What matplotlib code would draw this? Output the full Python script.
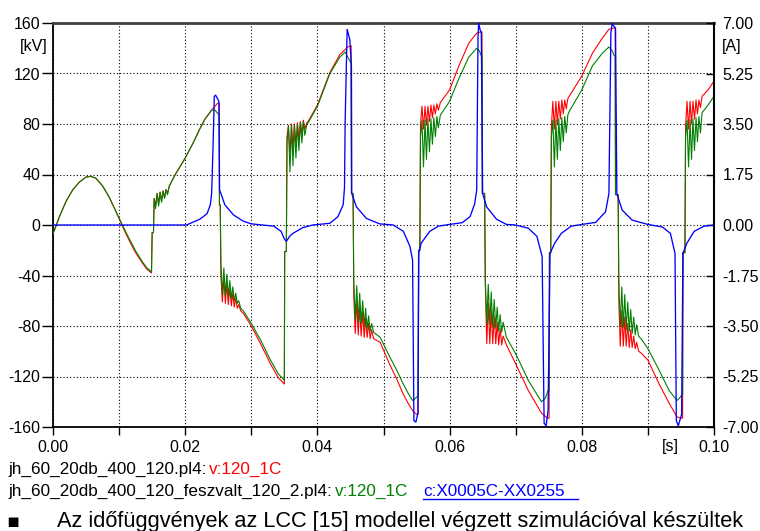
import numpy as np
import matplotlib
matplotlib.use("Agg")
from matplotlib import pyplot as plt
from matplotlib.lines import Line2D

plt.rcParams['font.family'] = ['Liberation Sans', 'DejaVu Sans']

# ---- data ----
# shared time points of the ringing after each commutation
osc_b = [0.01530, 0.01552, 0.01575, 0.01598, 0.01620, 0.01642, 0.01665, 0.01688, 0.01710, 0.01732, 0.01755]
osc_c = [0.02540, 0.02562, 0.02585, 0.02608, 0.02630, 0.02652, 0.02675, 0.02698, 0.02720, 0.02742, 0.02765,
         0.02788, 0.02810, 0.02840]
osc_d = [0.03540, 0.03562, 0.03585, 0.03608, 0.03630, 0.03652, 0.03675, 0.03698, 0.03720, 0.03742, 0.03765,
         0.03788, 0.03810, 0.03840]
osc_e = [0.04550, 0.04572, 0.04595, 0.04618, 0.04640, 0.04662, 0.04685, 0.04708, 0.04730, 0.04752, 0.04775,
         0.04798, 0.04820, 0.04850]
osc_f = [0.05560, 0.05582, 0.05605, 0.05628, 0.05650, 0.05672, 0.05695, 0.05718, 0.05740, 0.05762, 0.05785,
         0.05808, 0.05830, 0.05860]
osc_g = [0.06540, 0.06562, 0.06585, 0.06608, 0.06630, 0.06652, 0.06675, 0.06698, 0.06720, 0.06742, 0.06765,
         0.06788, 0.06810, 0.06860]
osc_h = [0.07540, 0.07562, 0.07585, 0.07608, 0.07630, 0.07652, 0.07675, 0.07698, 0.07720, 0.07742, 0.07765,
         0.07788]
osc_i = [0.08560, 0.08582, 0.08605, 0.08628, 0.08650, 0.08672, 0.08695, 0.08718, 0.08740, 0.08762, 0.08785,
         0.08808, 0.08830, 0.08860]
osc_j = [0.09570, 0.09592, 0.09615, 0.09638, 0.09660, 0.09682, 0.09705, 0.09728, 0.09750, 0.09772, 0.09795]
sine_t = [0.0000, 0.0010, 0.0020, 0.0030, 0.0040, 0.0050, 0.0057, 0.0065, 0.0075, 0.0085, 0.0095, 0.0105,
          0.0115, 0.0125, 0.0135, 0.0142, 0.0149]

# red: jh_60_20db_400_120.pl4  v:120_1C   [kV]
red_t = (sine_t
         + [0.01500, 0.01520] + osc_b
         + [0.0176, 0.0185, 0.0200, 0.0212, 0.0222, 0.0230, 0.0240, 0.0245, 0.0249, 0.02515, 0.02518, 0.0253]
         + osc_c + [0.0288, 0.0300, 0.0314, 0.0329, 0.0341, 0.0350, 0.03505, 0.03530]
         + osc_d + [0.0386, 0.0400, 0.0419, 0.0434, 0.0442, 0.0446, 0.0451, 0.04515, 0.0454]
         + osc_e + [0.0495, 0.0509, 0.0520, 0.0529, 0.0537, 0.0544, 0.0550, 0.05525, 0.0553, 0.0555]
         + osc_f + [0.0600, 0.0614, 0.0629, 0.0641, 0.0648, 0.06490, 0.06495, 0.0653]
         + osc_g + [0.0700, 0.0719, 0.0739, 0.0748, 0.07505, 0.0751, 0.0753]
         + osc_h + [0.0781, 0.0800, 0.0816, 0.0831, 0.0841, 0.0849, 0.08505, 0.0851, 0.0855]
         + osc_i + [0.0891, 0.0900, 0.0917, 0.0932, 0.0944, 0.0951, 0.09525, 0.0953, 0.0956]
         + osc_j + [0.0982, 0.0991, 0.1000])
red_v = ([-7, 7, 19, 28, 34, 38, 38.5, 37, 31, 22, 11, -1, -12, -22, -30, -35, -38]
         + [-6, -6, 21, 15, 25, 17, 26, 19, 27, 22, 28, 25, 30]
         + [31, 40, 53, 65, 76, 84, 91, 94, 96.5, 96.5, 16, 16]
         + [-40, -61, -43, -62, -46, -63, -50, -64, -54, -65, -58, -66, -63, -68]
         + [-70, -80, -94, -110, -121, -126, -21, -21]
         + [70, 79, 55, 80, 60, 80, 64, 81, 68, 82, 72, 83, 76, 81]
         + [82, 95, 121, 135, 139, 141, 142, 25, 25]
         + [-55, -86, -60, -87, -65, -88, -69, -89, -74, -89, -78, -90, -83, -90]
         + [-93, -110, -122, -133, -141, -147, -150, -150, -20, -20]
         + [80, 94, 76, 94, 79, 94, 82, 95, 85, 95, 88, 96, 91, 97]
         + [107, 126, 144, 152, 153, 153, 25, 25]
         + [-46, -94, -62, -94, -67, -94, -72, -94, -77, -95, -82, -95, -88, -95]
         + [-110, -131, -149, -153, -153, -22, -22]
         + [78, 98, 76, 98, 80, 98, 84, 99, 88, 99, 92, 100]
         + [102, 118, 136, 148, 155, 156, 156, 24, 24]
         + [-60, -96, -68, -96, -73, -96, -78, -97, -83, -97, -88, -98, -93, -100]
         + [-102, -107, -126, -141, -152, -153, -153, -22, -22]
         + [78, 98, 76, 98, 80, 98, 84, 99, 88, 99, 93]
         + [102, 107, 114])

# green: jh_60_20db_400_120_feszvalt_120_2.pl4  v:120_1C   [kV]
green_t = (sine_t
           + [0.01500, 0.01520] + osc_b
           + [0.0176, 0.0185, 0.0200, 0.0212, 0.0222, 0.0230, 0.0240, 0.0245, 0.0250, 0.02515, 0.02518, 0.0253]
           + osc_c + [0.0288, 0.0300, 0.0314, 0.0329, 0.0341, 0.0350, 0.03505, 0.03530]
           + osc_d + [0.0386, 0.0400, 0.0419, 0.0434, 0.0442, 0.0447, 0.0451, 0.04515, 0.0454]
           + osc_e + [0.0495, 0.0509, 0.0520, 0.0529, 0.0537, 0.0544, 0.0549, 0.05525, 0.0553, 0.0555]
           + osc_f + [0.0600, 0.0614, 0.0629, 0.0641, 0.0645, 0.0648, 0.06490, 0.06495, 0.0653]
           + osc_g + [0.0700, 0.0719, 0.0739, 0.0745, 0.0749, 0.07505, 0.0751, 0.0753]
           + osc_h + [0.0781, 0.0800, 0.0816, 0.0831, 0.0841, 0.0846, 0.0849, 0.08505, 0.0851, 0.0855]
           + osc_i + [0.0891, 0.0900, 0.0917, 0.0932, 0.0944, 0.0948, 0.0952, 0.09525, 0.0953, 0.0956]
           + osc_j + [0.0982, 0.0991, 0.1000])
green_v = ([-7, 7, 19, 28, 34, 38, 38.5, 37, 31, 22, 11, 0, -10.5, -20.5, -29, -34, -37]
           + [-6, -6, 21, 13, 25, 15, 26, 18, 27, 21, 28, 24, 30]
           + [31, 40, 53, 65, 76, 84, 91, 91, 88, 87, 16, 16]
           + [-30, -55, -34, -56, -39, -57, -44, -58, -49, -60, -54, -62, -60, -66]
           + [-68, -78, -91, -107, -118, -123, -21, -21]
           + [65, 78, 42, 79, 47, 79, 53, 80, 59, 81, 65, 82, 71, 80]
           + [81, 94, 120, 133, 137, 132, 128, 25, 25]
           + [-44, -75, -48, -77, -54, -78, -60, -80, -66, -82, -72, -84, -78, -85]
           + [-89, -104, -115, -125, -133, -139, -137, -135, -20, -20]
           + [70, 83, 46, 83, 52, 84, 58, 84, 64, 85, 70, 86, 77, 87]
           + [98, 116, 133, 140, 138, 134, 134, 25, 25]
           + [-42, -78, -47, -79, -53, -81, -59, -82, -65, -84, -71, -85, -77, -89]
           + [-102, -123, -140, -137, -131, -131, -22, -22]
           + [70, 83, 46, 83, 52, 84, 59, 85, 66, 86, 73, 87]
           + [90, 107, 126, 136, 141, 138, 134, 134, 24, 24]
           + [-45, -80, -49, -81, -55, -83, -61, -84, -67, -86, -73, -87, -79, -88]
           + [-91, -98, -115, -131, -139, -137, -134, -134, -22, -22]
           + [70, 83, 46, 83, 52, 84, 59, 85, 66, 86, 73]
           + [89, 95, 102])

# blue: c:X0005C-XX0255   [A]
blue_t = [0.0000, 0.0202, 0.0222, 0.0233, 0.0238, 0.0240, 0.0242, 0.0244, 0.0246, 0.0250, 0.0251, 0.0252,
          0.0260, 0.0273, 0.0288, 0.0300, 0.0334, 0.0345, 0.0350, 0.0353, 0.0358, 0.0363, 0.0378, 0.0393,
          0.0419, 0.0431, 0.0439, 0.0441, 0.0442, 0.0445, 0.0449, 0.04515, 0.0452, 0.0459, 0.0474, 0.0494,
          0.0515, 0.0530, 0.0540, 0.0544, 0.0546, 0.0549, 0.0552, 0.05535, 0.0557, 0.0570, 0.0583, 0.0600,
          0.0619, 0.0631, 0.0638, 0.0641, 0.0643, 0.0644, 0.0646, 0.0648, 0.0650, 0.0656, 0.0671, 0.0686,
          0.0700, 0.0719, 0.0732, 0.0740, 0.0743, 0.0746, 0.0749, 0.0752, 0.0759, 0.0769, 0.0784, 0.0800,
          0.0821, 0.0836, 0.0841, 0.0844, 0.0846, 0.0848, 0.0851, 0.0853, 0.0861, 0.0876, 0.0900, 0.0922,
          0.0934, 0.0941, 0.0943, 0.0946, 0.0951, 0.0953, 0.0959, 0.0970, 0.0985, 0.1000]
blue_a = [0.00, 0.00, 0.20, 0.39, 0.70, 1.09, 2.60, 4.46, 4.50, 4.33, 4.28, 1.22,
          0.70, 0.35, 0.13, 0.04, -0.04, -0.22, -0.48, -0.57, -0.39, -0.29, -0.09, 0.00,
          0.06, 0.29, 0.70, 1.30, 3.60, 6.78, 6.43, 5.50, 1.09, 0.63, 0.23, 0.04,
          0.00, -0.22, -0.74, -1.22, -6.78, -6.83, -6.52, -0.96, -0.63, -0.22, -0.04, 0.02,
          0.08, 0.29, 0.74, 1.22, 6.52, 7.00, 6.78, 6.65, 1.09, 0.63, 0.20, 0.02,
          0.00, -0.11, -0.39, -1.09, -6.87, -6.96, -6.43, -0.98, -0.63, -0.29, -0.04, 0.02,
          0.09, 0.46, 1.09, 6.65, 7.00, 6.90, 6.83, 1.09, 0.52, 0.17, 0.02, -0.07,
          -0.29, -0.98, -6.78, -6.96, -6.56, -0.98, -0.63, -0.22, -0.04, 0.00]

x_major = [0.00, 0.02, 0.04, 0.06, 0.08, 0.10]
x_minor = [0.00, 0.01, 0.02, 0.03, 0.04, 0.05, 0.06, 0.07, 0.08, 0.09, 0.10]
kv_ticks = [-160, -120, -80, -40, 0, 40, 80, 120, 160]
amp_ticks = [-7.00, -5.25, -3.50, -1.75, 0.00, 1.75, 3.50, 5.25, 7.00]

legend_red = ("jh_60_20db_400_120.pl4:", "v:120_1C")
legend_green = ("jh_60_20db_400_120_feszvalt_120_2.pl4:", "v:120_1C")
legend_blue = "c:X0005C-XX0255"
caption = "Az időfüggvények az LCC [15] modellel végzett szimulációval készültek"

W, H = 760, 531
fig = plt.figure(figsize=(W / 100, H / 100), dpi=100)
ax = fig.add_axes([53 / W, 1 - 427 / H, 661 / W, 404 / H])
ax2 = ax.twinx()

ax.plot(red_t, red_v, color='#ff0000', lw=0.8, zorder=3)
ax.plot(green_t, green_v, color='#008000', lw=0.8, zorder=4)
ax2.plot(blue_t, blue_a, color='#0000ff', lw=0.95)

ax.set_xlim(0, 0.1)
ax.set_ylim(-160, 160)
ax2.set_ylim(-7, 7)

ax.set_xticks(x_major)
ax.set_xticklabels(['%.2f' % v for v in x_major])
ax.set_xticks(x_minor, minor=True)
ax.set_yticks(kv_ticks)
ax.set_yticklabels(['%d' % v for v in kv_ticks])
ax2.set_yticks(amp_ticks)
ax2.set_yticklabels(['%.2f' % v for v in amp_ticks])

# dotted grid every 0.01 s and every 40 kV
grid_style = dict(color='black', linestyle=(0, (1, 2)), linewidth=0.8)
ax.grid(True, which='both', axis='x', **grid_style)
ax.grid(True, which='major', axis='y', **grid_style)

ax.tick_params(axis='x', which='both', direction='out', length=6, width=1, pad=3, labelsize=11.5)
ax.tick_params(axis='y', direction='out', length=8, width=1, pad=1, labelsize=11.5)
ax2.tick_params(axis='y', direction='in', length=6, width=1, pad=6, labelsize=11.5)

for s in ['left', 'bottom', 'right']:
    ax.spines[s].set_linewidth(1.3)
ax.spines['top'].set_color('#404040')
ax.spines['top'].set_linewidth(2)
for s in ['left', 'bottom', 'top']:
    ax2.spines[s].set_visible(False)
ax2.spines['right'].set_linewidth(1.5)

# axis unit labels
fig.text(34 / W, 1 - 46 / H, '[kV]', ha='center', va='center', fontsize=11.5)
fig.text(732 / W, 1 - 46 / H, '[A]', ha='center', va='center', fontsize=11.5)
fig.text(670 / W, 1 - 447 / H, '[s]', ha='center', va='center', fontsize=11.5)

# legend lines under the chart
fig.canvas.draw()
rend = fig.canvas.get_renderer()


def put(x, y, s, color='black', fs=12.3):
    t = fig.text(x / W, 1 - y / H, s, color=color, ha='left', va='baseline', fontsize=fs)
    return t.get_window_extent(renderer=rend).x1


x = put(8, 474, legend_red[0])
put(x + 3, 474, legend_red[1], color='#ff0000')
x = put(8, 496, legend_green[0])
x = put(x + 3, 496, legend_green[1], color='#008000')
x = put(423, 496, legend_blue, color='#0000ff')
fig.add_artist(Line2D([423 / W, 578 / W], [1 - 499 / H, 1 - 499 / H], color='#0000ff', lw=1.0))

fig.text(13 / W, 1 - 527 / H, '\u25aa', ha='center', va='baseline', fontsize=14, family=['DejaVu Sans'])
fig.text(57 / W, 1 - 527 / H, caption, ha='left', va='baseline', fontsize=15.7)

fig.savefig('out.png', dpi=100)
